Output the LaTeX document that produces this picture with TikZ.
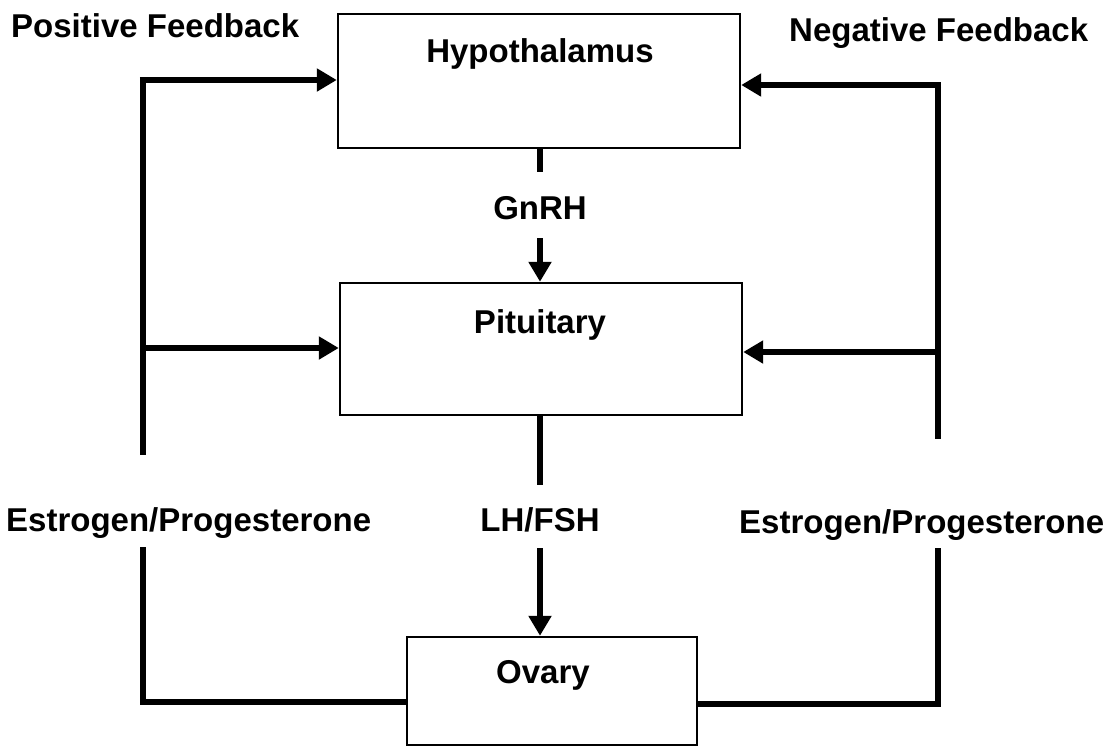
\documentclass[tikz,border=0pt]{standalone}
\usepackage{fontspec}
\setmainfont{Liberation Sans}
\usetikzlibrary{arrows.meta}
\begin{document}
\begin{tikzpicture}[x=1pt,y=-1pt,
  box/.style={draw, line width=2.4pt, inner sep=0pt},
  lbl/.style={inner sep=0pt, font=\bfseries\fontsize{33}{39}\selectfont},
  conn/.style={line width=6.4pt},
  arr/.style={line width=6.4pt, -{Triangle[length=20pt,width=22pt]}}]
\useasboundingbox (0,0) rectangle (1111,748);
% boxes
\node[box, minimum width=402pt, minimum height=134pt] (hyp) at (539,81) {};
\node[box, minimum width=402pt, minimum height=132pt] (pit) at (541,349) {};
\node[box, minimum width=290pt, minimum height=108pt] (ova) at (552,691) {};
% box texts
\node[lbl, anchor=base] (hyptxt) at (540,62) {Hypothalamus};
\node[lbl, anchor=base] (pittxt) at (540,333) {Pituitary};
\node[lbl, anchor=base] (ovatxt) at (543,683) {Ovary};
% labels
\node[lbl, anchor=base] (gnrh) at (540,219) {GnRH};
\node[lbl, anchor=base] (lhfsh) at (540,531) {LH/FSH};
\node[lbl, anchor=base west] (posfb) at (11,37) {Positive Feedback};
\node[lbl, anchor=base west] (negfb) at (789,41) {Negative Feedback};
\node[lbl, anchor=base west] (estl) at (6,531) {Estrogen/Progesterone};
\node[lbl, anchor=base west] (estr) at (739,533) {Estrogen/Progesterone};
% coordinates
\coordinate (gstub) at (540,172);
\coordinate (gtop) at (540,238);
\coordinate (lstub) at (540,485);
\coordinate (ltop) at (540,548);
\coordinate (lt) at (143,80);
\coordinate (lm) at (143,348);
\coordinate (lb) at (143,458);
\coordinate (lb2) at (143,547);
\coordinate (lc) at (143,702);
\coordinate (rt) at (938,85);
\coordinate (rm) at (938,352);
\coordinate (rb) at (938,442);
\coordinate (rb2) at (938,548);
\coordinate (rc) at (938,704);
% central chain
\draw[conn] (hyp.south -| gstub) -- (gstub);
\draw[arr] (gtop) -- (pit.north -| gtop);
\draw[conn] (pit.south -| lstub) -- (lstub);
\draw[arr] (ltop) -- (ova.north -| ltop);
% positive feedback (left)
\draw[conn] ([yshift=3.2pt]lb) -- ([yshift=-3.2pt]lt);
\draw[arr] ([xshift=-3.2pt]lt) -- (hyp.west |- lt);
\draw[arr] (lm) -- (pit.west |- lm);
\draw[conn, line join=miter] (lb2) -- (lc) -- (ova.west |- lc);
% negative feedback (right)
\draw[conn] ([yshift=3.2pt]rb) -- ([yshift=-3.2pt]rt);
\draw[arr] ([xshift=3.2pt]rt) -- (hyp.east |- rt);
\draw[arr] (rm) -- (pit.east |- rm);
\draw[conn, line join=miter] (rb2) -- (rc) -- (ova.east |- rc);
\end{tikzpicture}
\end{document}
